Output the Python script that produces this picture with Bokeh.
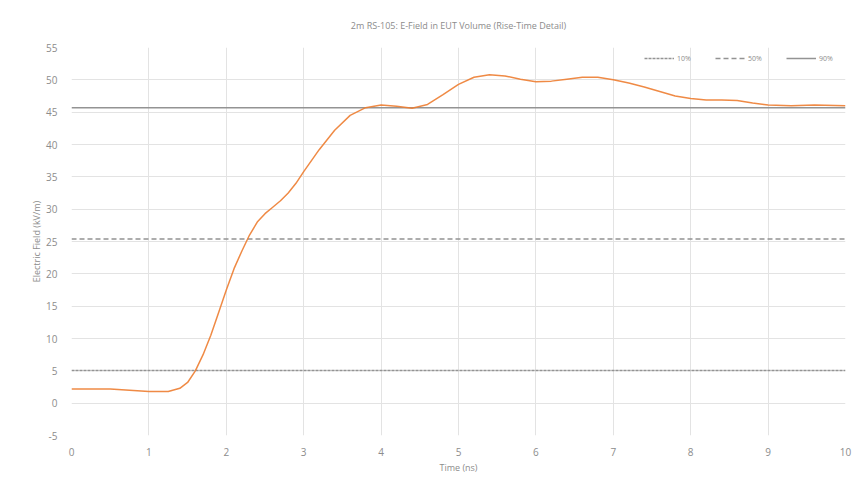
from bokeh.plotting import figure
from bokeh.models import ColumnDataSource, FixedTicker, Legend, LegendItem
from bokeh.embed import file_html
from bokeh.resources import INLINE

# ---- data ----
time_ns = [0.0, 0.25, 0.5, 0.75, 1.0, 1.25, 1.4, 1.5, 1.6, 1.7, 1.8, 1.9, 2.0, 2.1,
           2.2, 2.3, 2.4, 2.5, 2.6, 2.7, 2.8, 2.9, 3.0, 3.2, 3.4, 3.6, 3.8, 4.0,
           4.2, 4.4, 4.6, 4.8, 5.0, 5.2, 5.4, 5.6, 5.8, 6.0, 6.2, 6.4, 6.6, 6.8,
           7.0, 7.2, 7.4, 7.6, 7.8, 8.0, 8.2, 8.4, 8.6, 8.8, 9.0, 9.3, 9.6, 10.0]
efield = [2.2, 2.2, 2.2, 2.0, 1.8, 1.8, 2.3, 3.2, 5.0, 7.5, 10.5, 14.0, 17.5, 20.8,
          23.5, 26.0, 28.0, 29.3, 30.3, 31.3, 32.5, 34.0, 35.8, 39.2, 42.2, 44.5, 45.7, 46.1,
          45.9, 45.6, 46.2, 47.7, 49.3, 50.4, 50.8, 50.6, 50.1, 49.7, 49.8, 50.1, 50.4, 50.4,
          50.0, 49.5, 48.9, 48.2, 47.5, 47.1, 46.9, 46.9, 46.8, 46.4, 46.1, 46.0, 46.1, 46.0]

threshold_names = ["10%", "50%", "90%"]
threshold_values = [5.07, 25.4, 45.7]
threshold_dash = ["3 1", "5 3", "solid"]

x_ticks = [0, 1, 2, 3, 4, 5, 6, 7, 8, 9, 10]
y_ticks = [-5, 0, 5, 10, 15, 20, 25, 30, 35, 40, 45, 50, 55]

TEXT = "#8c8c8c"
FONT = "Open Sans"

p = figure(width=856, height=476, output_backend="svg", toolbar_location=None,
           x_range=(0, 10), y_range=(-5, 55),
           min_border_left=71, min_border_right=11, min_border_top=47, min_border_bottom=41,
           title="2m RS-105: E-Field in EUT Volume (Rise-Time Detail)")

p.title.align = "center"
p.title.text_font = FONT
p.title.text_font_size = "9px"
p.title.text_font_style = "normal"
p.title.text_color = TEXT
p.title.offset = 0
p.title.standoff = 32

p.outline_line_color = None
p.background_fill_color = "white"
p.border_fill_color = "white"

for ax in (p.xaxis, p.yaxis):
    ax.axis_line_color = None
    ax.major_tick_line_color = None
    ax.minor_tick_line_color = None
    ax.major_label_text_font = FONT
    ax.major_label_text_font_size = "10px"
    ax.major_label_text_color = TEXT
    ax.axis_label_text_font = FONT
    ax.axis_label_text_font_size = "9px"
    ax.axis_label_text_font_style = "normal"
    ax.axis_label_text_color = TEXT

p.xaxis.ticker = FixedTicker(ticks=x_ticks)
p.yaxis.ticker = FixedTicker(ticks=y_ticks)
p.yaxis.major_label_overrides = {t: str(t) for t in y_ticks}
p.xaxis.axis_label = "Time (ns)"
p.yaxis.axis_label = "Electric Field (kV/m)"
p.xaxis.major_label_standoff = 6
p.yaxis.major_label_standoff = 8
p.xaxis.axis_label_standoff = 2
p.yaxis.axis_label_standoff = 0

p.xgrid.grid_line_color = "#e3e3e3"
p.ygrid.grid_line_color = "#e3e3e3"
p.xgrid.grid_line_width = 1
p.ygrid.grid_line_width = 1

items = []
for name, val, dash in zip(threshold_names, threshold_values, threshold_dash):
    src = ColumnDataSource(dict(x=[x_ticks[0], x_ticks[-1]], y=[val, val]))
    r = p.line("x", "y", source=src, line_color="#939393", line_width=1.5, line_dash=dash)
    items.append(LegendItem(label=name, renderers=[r]))

src = ColumnDataSource(dict(t=time_ns, e=efield))
p.line("t", "e", source=src, line_color="#ED7D31", line_width=1.5, alpha=0.9)

legend = Legend(items=items, orientation="horizontal", location="top_right")
legend.label_text_font = FONT
legend.label_text_font_size = "7px"
legend.label_text_color = TEXT
legend.glyph_width = 30
legend.glyph_height = 10
legend.spacing = 18
legend.label_standoff = 3
legend.background_fill_alpha = 0
legend.border_line_color = None
legend.margin = 6
legend.padding = 4
p.add_layout(legend)

open("out.html", "w").write(file_html(p, INLINE))
